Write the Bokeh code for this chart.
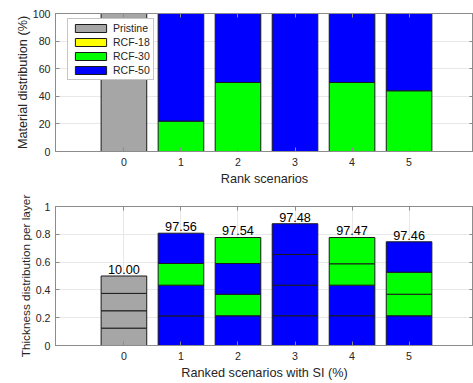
from bokeh.plotting import figure
from bokeh.layouts import column
from bokeh.models import (Legend, LegendItem, LinearAxis, FixedTicker, Range1d,
                          ColumnDataSource, CustomJSTickFormatter)
from bokeh.core.properties import value
from bokeh.embed import file_html
from bokeh.resources import INLINE

# ---------------- data ----------------
scenarios = [0, 1, 2, 3, 4, 5]
# material distribution (%)
pristine = [100, 0, 0, 0, 0, 0]
rcf18 = [0, 0, 0, 0, 0, 0]
rcf30 = [0, 22, 50, 0, 50, 44]
rcf50 = [0, 78, 50, 100, 50, 56]

# thickness per layer (4 layers, bottom to top) and material of each layer
layer_thk = [
    [0.125, 0.125, 0.125, 0.125],
    [0.213, 0.221, 0.156, 0.218],
    [0.214, 0.155, 0.221, 0.187],
    [0.214, 0.220, 0.221, 0.221],
    [0.214, 0.220, 0.154, 0.189],
    [0.214, 0.155, 0.158, 0.219],
]
layer_mat = [
    ["Pristine", "Pristine", "Pristine", "Pristine"],
    ["RCF-50", "RCF-50", "RCF-30", "RCF-50"],
    ["RCF-50", "RCF-30", "RCF-50", "RCF-30"],
    ["RCF-50", "RCF-50", "RCF-50", "RCF-50"],
    ["RCF-50", "RCF-50", "RCF-30", "RCF-30"],
    ["RCF-50", "RCF-30", "RCF-30", "RCF-50"],
]
si_values = [10.00, 97.56, 97.54, 97.48, 97.47, 97.46]

top_yticks = [0, 20, 40, 60, 80, 100]
bottom_yticks = [0, 0.2, 0.4, 0.6, 0.8, 1]

materials = ["Pristine", "RCF-18", "RCF-30", "RCF-50"]
colors = {"Pristine": "#a6a6a6", "RCF-18": "#ffff00", "RCF-30": "#00ff00", "RCF-50": "#0000ff"}

FONT = "Liberation Sans"
TXT = "#262626"
AX = "#8c8c8c"
GRID = "#e8e8e8"
BAR_W = 0.8
EMPTY = CustomJSTickFormatter(code="return '';")


def style(p, yticks, xlabel, ylabel, ylabel_size):
    p.xaxis.ticker = FixedTicker(ticks=scenarios)
    p.yaxis.ticker = FixedTicker(ticks=yticks)
    p.xgrid.ticker = FixedTicker(ticks=scenarios)
    p.ygrid.ticker = FixedTicker(ticks=yticks)
    p.grid.grid_line_color = GRID
    p.xaxis.axis_label = xlabel
    p.yaxis.axis_label = ylabel
    for ax in p.xaxis + p.yaxis:
        ax.axis_label_text_font = FONT
        ax.axis_label_text_font_style = "normal"
        ax.axis_label_text_font_size = "12.7px"
        ax.axis_label_text_color = TXT
        ax.major_label_text_font = FONT
        ax.major_label_text_font_size = "10.6px"
        ax.major_label_text_color = TXT
        ax.axis_line_color = AX
        ax.major_tick_line_color = AX
        ax.major_tick_in = 4
        ax.major_tick_out = 0
        ax.minor_tick_line_color = None
    p.yaxis.axis_label_text_font_size = ylabel_size
    p.xaxis.major_label_standoff = 6
    p.xaxis.axis_label_standoff = 3
    p.yaxis.major_label_standoff = 5
    p.yaxis.axis_label_standoff = 0
    p.outline_line_color = AX
    # right and top tick-only axes
    ra = LinearAxis(ticker=FixedTicker(ticks=yticks), formatter=EMPTY,
                    major_label_standoff=0, axis_line_color=AX, major_tick_line_color=AX,
                    major_tick_in=4, major_tick_out=0, minor_tick_line_color=None)
    ta = LinearAxis(ticker=FixedTicker(ticks=scenarios), formatter=EMPTY,
                    major_label_standoff=0, axis_line_color=AX, major_tick_line_color=AX,
                    major_tick_in=4, major_tick_out=0, minor_tick_line_color=None)
    p.add_layout(ra, "right")
    p.add_layout(ta, "above")


# ---------------- top chart ----------------
p1 = figure(frame_width=418, frame_height=138, x_range=Range1d(-1.2, 6.13),
            y_range=Range1d(0, 100), output_backend="svg", toolbar_location=None,
            min_border_left=55, min_border_right=0, min_border_top=13, min_border_bottom=36)
style(p1, top_yticks, "Rank scenarios", "Material distribution (%)", "12.7px")

series = {"Pristine": pristine, "RCF-18": rcf18, "RCF-30": rcf30, "RCF-50": rcf50}
base = [0.0] * len(scenarios)
items = []
for m in materials:
    vals = series[m]
    bs = list(base)
    ts = [b + v for b, v in zip(base, vals)]
    base = ts
    r = p1.vbar(x=scenarios, bottom=bs, top=ts, width=BAR_W, fill_color=colors[m],
                line_color="#1a1a1a", line_width=1)
    items.append(LegendItem(label=m, renderers=[r]))

leg = Legend(items=items, location=(12, 71), label_text_font=FONT, label_text_font_size="10.5px",
             label_text_color=TXT, glyph_width=39, glyph_height=10, label_height=10,
             label_standoff=3, spacing=2, padding=3, margin=0, border_line_color=AX,
             background_fill_color="white", background_fill_alpha=1)
p1.add_layout(leg)

# ---------------- bottom chart ----------------
p2 = figure(frame_width=418, frame_height=139, x_range=Range1d(-1.2, 6.13),
            y_range=Range1d(0, 1), output_backend="svg", toolbar_location=None,
            min_border_left=55, min_border_right=0, min_border_top=18, min_border_bottom=39)
style(p2, bottom_yticks, "Ranked scenarios with SI (%)", "Thickness distribution per layer", "11.8px")
p2.yaxis[0].formatter = CustomJSTickFormatter(code="return tick.toString();")

xs, bs, ts, cs = [], [], [], []
totals = []
for i, s in enumerate(scenarios):
    b = 0.0
    for t, m in zip(layer_thk[i], layer_mat[i]):
        xs.append(s); bs.append(b); ts.append(b + t); cs.append(colors[m])
        b += t
    totals.append(b)
src = ColumnDataSource(dict(x=xs, bottom=bs, top=ts, color=cs))
p2.vbar(x="x", bottom="bottom", top="top", width=BAR_W, fill_color="color",
        line_color="#1a1a1a", line_width=1, source=src)

lab = ColumnDataSource(dict(x=scenarios, y=totals, t=["%.2f" % v for v in si_values]))
p2.text(x="x", y="y", text="t", source=lab, text_align="center", text_baseline="bottom",
        y_offset=-2, text_font_size="12.7px", text_color="#000000", text_font=value(FONT))

layout = column(p1, p2, spacing=0)
open("out.html", "w").write(file_html(layout, INLINE))
